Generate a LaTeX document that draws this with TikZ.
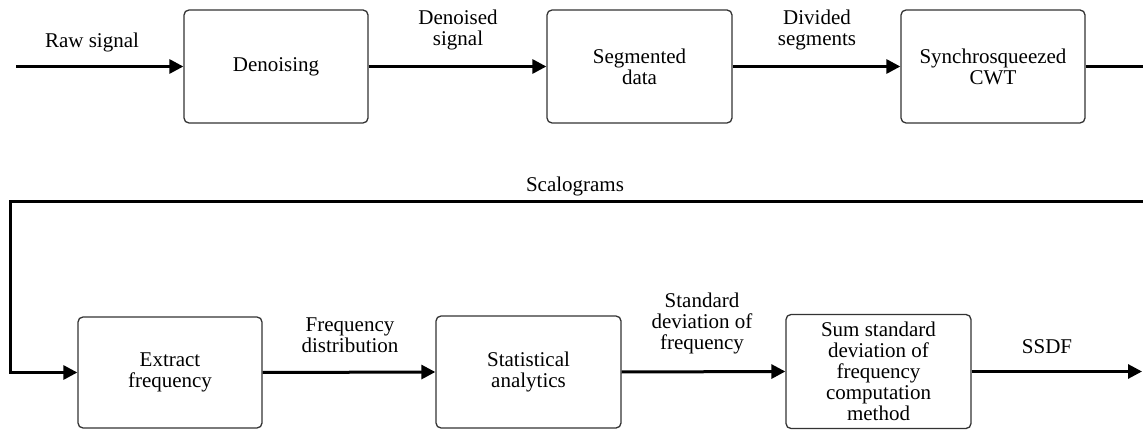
\documentclass[tikz,border=0pt]{standalone}
\usepackage{fontspec}
\setmainfont{Liberation Serif}
\usetikzlibrary{arrows.meta}
\begin{document}
\begin{tikzpicture}[x=1pt,y=-1pt,
  box/.style={draw=black!80,line width=1.3pt,rounded corners=5pt,align=center,inner sep=2pt,font=\fontsize{21}{21}\selectfont},
  lbl/.style={align=center,inner sep=0pt,font=\fontsize{21}{21}\selectfont},
  flow/.style={line width=3pt,-{Triangle[length=14pt,width=14pt]}},
  plain/.style={line width=3pt}]
\useasboundingbox (0,0) rectangle (1143,430);
% boxes
\node[box,minimum width=184pt,minimum height=113pt] (den) at (276,66.5) {Denoising};
\node[box,minimum width=185pt,minimum height=113pt] (seg) at (639.5,66.5) {Segmented\\data};
\node[box,minimum width=184pt,minimum height=113pt] (cwt) at (993,66.5) {Synchrosqueezed\\CWT};
\node[box,minimum width=184pt,minimum height=111pt] (ext) at (170,372.5) {Extract\\frequency};
\node[box,minimum width=185pt,minimum height=112pt] (sta) at (528.5,372) {Statistical\\analytics};
\node[box,minimum width=185pt,minimum height=114pt] (sum) at (878.5,371.5) {Sum standard\\deviation of\\frequency\\computation\\method};
% free ends
\coordinate (in) at (16,66.5);
\coordinate (outA) at (1145,66.5);
\coordinate (inB) at (1145,202);
\coordinate (c1) at (10,202);
\coordinate (out) at (1142,371.5);
% connectors
\draw[flow] (in) -- (den.west);
\draw[flow] (den.east) -- (seg.west);
\draw[flow] (seg.east) -- (cwt.west);
\draw[plain] (cwt.east) -- (outA);
\draw[flow] (inB) -- (c1) |- (ext.west);
\draw[flow] (ext.east) -- (sta.west);
\draw[flow] (sta.east) -- (sum.west);
\draw[flow] (sum.east) -- (out);
% labels
\node[lbl] (l1) at (92,42) {Raw signal};
\node[lbl] (l2) at (458,30) {Denoised\\signal};
\node[lbl] (l3) at (817,30) {Divided\\segments};
\node[lbl] (l4) at (575,186) {Scalograms};
\node[lbl] (l5) at (350,335) {Frequency\\distribution};
\node[lbl] (l6) at (702,323) {Standard\\deviation of\\frequency};
\node[lbl] (l7) at (1047,347) {SSDF};
\end{tikzpicture}
\end{document}
